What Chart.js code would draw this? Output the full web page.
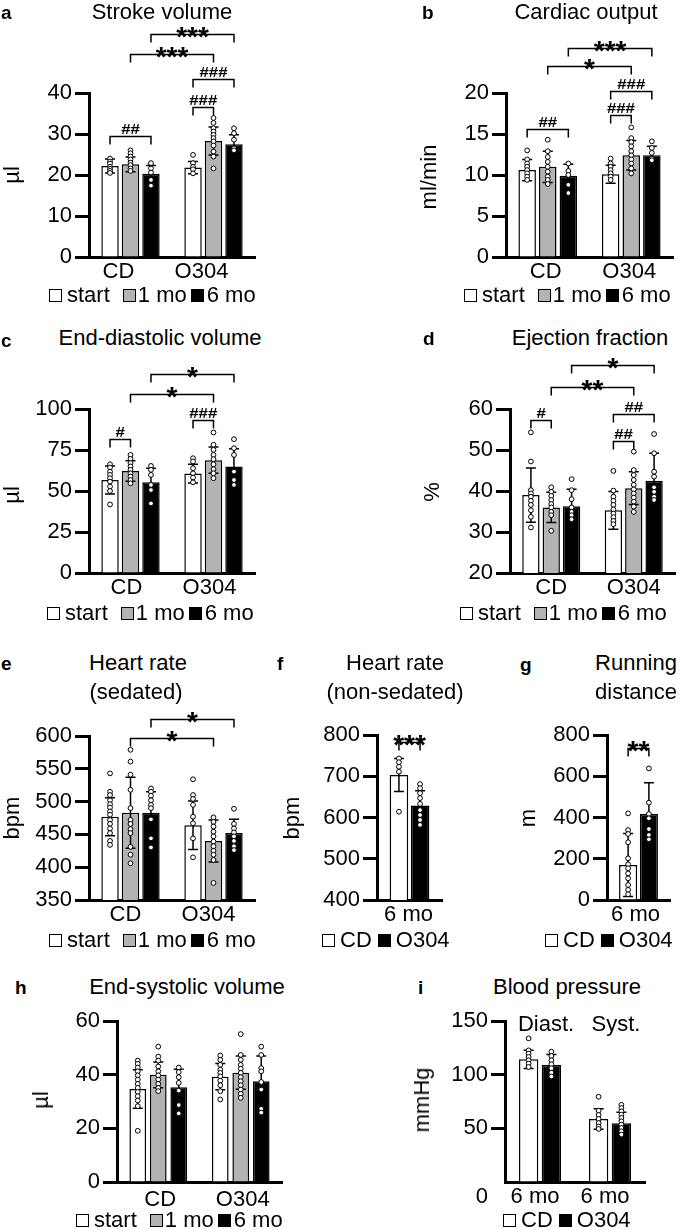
<!DOCTYPE html>
<html><head><meta charset="utf-8">
<script src="https://cdn.jsdelivr.net/npm/chart.js@4.4.1/dist/chart.umd.min.js"></script>
<style>
html,body{margin:0;padding:0;background:#fff;}
body{width:685px;height:1230px;position:relative;overflow:hidden;font-family:"Liberation Sans",Arial,Helvetica,sans-serif;color:#000;}
.tt{position:absolute;white-space:nowrap;font-size:22px;line-height:1;transform:translate(-50%,-50%);}
.lt{position:absolute;white-space:nowrap;font-size:19px;font-weight:bold;line-height:1;transform:translate(0,-50%);}
.yt{position:absolute;white-space:nowrap;font-size:22px;line-height:1;transform:translate(-50%,-50%) rotate(-90deg);}
.lg{position:absolute;display:flex;align-items:center;white-space:nowrap;font-size:22px;line-height:1;transform:translate(0,-50%);}
.bx{display:inline-block;width:11px;height:11px;border:1.5px solid #000;}
canvas{position:absolute;}
</style></head><body>
<script>
// ---------- categories / labels ----------
const groupCats = ['CD', 'O304'];
const timeNames = ['start', '1 mo', '6 mo'];
const dietNames = ['CD', 'O304'];
const sixMo = ['6 mo'];
const bpCats = ['6 mo', '6 mo'];
const bpHeaders = ['Diast.', 'Syst.'];

// ---------- a: Stroke volume (series: start, 1 mo, 6 mo; per category CD, O304) ----------
const svTicks = [0, 10, 20, 30, 40];
const svMean = [[22.2, 21.8], [22.6, 28.3], [20.3, 27.5]];
const svSD = [[1.7, 1.5], [1.8, 3.4], [2.0, 2.3]];
const svPts = [
  [[24, 23.3, 22.8, 22, 21.5, 21, 20.5], [24.9, 22.9, 22, 21.4, 20.4]],
  [[26, 25.3, 24.5, 23.8, 23, 22.4, 21.6, 21], [33.9, 32.7, 31.4, 30.6, 29.8, 29, 28.2, 27.2, 25.7, 24.5, 21.6]],
  [[22.9, 21.6, 20.6, 18.8, 17.4], [31.4, 30.2, 28.6, 26.5, 26]]
];
const svSig = [[0,0,0,2,29.4,'##'], [1,0,1,1,36.7,'###'], [1,0,1,2,43.3,'###'], [0,1,1,1,49.6,'***'], [0,2,1,2,54.4,'***']];

// ---------- b: Cardiac output ----------
const coTicks = [0, 5, 10, 15, 20];
const coMean = [[10.6, 10.1], [11.0, 12.4], [9.9, 12.4]];
const coSD = [[1.3, 1.1], [1.9, 1.8], [1.4, 1.1]];
const coPts = [
  [[13, 11.9, 11.4, 11, 10.6, 10.2, 9.8, 9.4], [12, 11.4, 11, 10.6, 10.2, 9.8, 9.4]],
  [[14.3, 12.9, 12.2, 11.6, 11, 10.4, 9.8, 9.4, 8.9], [15.8, 14.5, 14, 13.5, 12.9, 12.4, 11.9, 11.4, 10.8, 10.2]],
  [[11.4, 10.5, 10, 8.8, 7.8], [14.1, 13.3, 12.7, 12, 11.8]]
];
const coSig = [[0,0,0,2,15.6,'##'], [1,0,1,1,17.3,'###'], [1,0,1,2,20.3,'###'], [0,1,1,1,23.3,'*'], [0,2,1,2,25.5,'***']];

// ---------- c: End-diastolic volume ----------
const edvTicks = [0, 25, 50, 75, 100];
const edvMean = [[56.7, 60.6], [62.2, 68.8], [55.3, 64.9]];
const edvSD = [[8.6, 5.7], [6.2, 8.0], [8.6, 10.8]];
const edvPts = [
  [[66.3, 64.3, 61.8, 59.8, 57.8, 55.7, 52.7, 50, 41.8], [70, 68, 63.9, 60.8, 58.2, 55.3]],
  [[72, 69.6, 67, 65, 62.9, 60.8, 58.8, 56.7, 54.7], [85.7, 78.2, 75.1, 72, 69.4, 66.3, 63.3, 60.8, 57.8]],
  [[65.3, 62.9, 59.8, 53.7, 50.6, 42.4], [81.6, 76.1, 72, 61.8, 56.7, 53.7]]
];
const edvSig = [[0,0,0,1,81.6,'#'], [1,0,1,1,93.5,'###'], [0,1,1,1,109.2,'*'], [0,2,1,2,121.6,'*']];

// ---------- d: Ejection fraction ----------
const efTicks = [20, 30, 40, 50, 60];
const efMean = [[39.0, 35.3], [36.0, 40.7], [36.3, 42.5]];
const efSD = [[6.6, 4.6], [3.7, 4.0], [4.1, 6.7]];
const efPts = [
  [[54.3, 47.2, 40.2, 39.4, 38.6, 37.6, 36.6, 35.3, 33.7, 31.1], [44.9, 40.1, 38.6, 37.6, 36.6, 35.5, 34.5, 33.6, 32.7, 31.9]],
  [[40.9, 39.8, 38.8, 37.8, 36.8, 36, 34.9, 34.1, 30.3], [49.6, 45.1, 43.9, 42.7, 41.5, 40.4, 39.4, 38.4, 37.4, 36.2, 34.9]],
  [[42.9, 40.2, 38, 36, 34.9, 34.1, 33.1], [53.9, 49.2, 44.7, 43.5, 40.9, 39.8, 38.6, 37.8]]
];
const efSig = [[0,0,0,1,57.4,'#'], [1,0,1,1,52.3,'##'], [1,0,1,2,58.9,'##'], [0,1,1,1,65.3,'**'], [0,2,1,2,70.7,'*']];

// ---------- e: Heart rate (sedated) ----------
const hrsTicks = [350, 400, 450, 500, 550, 600];
const hrsMean = [[477, 464], [483, 440], [483, 452]];
const hrsSD = [[29, 37], [54, 32], [32, 21]];
const hrsPts = [
  [[543, 515, 510, 502, 496, 491, 485, 480, 472, 466, 459, 452, 440, 434], [534, 510, 504, 495, 477, 467, 444, 415]],
  [[579, 561, 541, 518, 490, 472, 466, 458, 452, 431, 419, 406], [476, 469, 462, 454, 447, 439, 432, 425, 419, 411, 376]],
  [[520, 515, 509, 502, 495, 490, 473, 444, 430], [489, 466, 459, 453, 447, 440, 432, 426]]
];
const hrsSig = [[0,1,1,1,596.5,'*'], [0,2,1,2,626,'*']];

// ---------- f: Heart rate (non-sedated) (series: CD, O304) ----------
const hrnTicks = [400, 500, 600, 700, 800];
const hrnMean = [[703], [629]];
const hrnSD = [[40], [36]];
const hrnPts = [[[743, 734, 723, 711, 614]], [[681, 671, 659, 647, 633, 618, 606, 594, 582]]];
const hrnSig = [[0,0,0,1,784,'***']];

// ---------- g: Running distance ----------
const runTicks = [0, 200, 400, 600, 800];
const runMean = [[170], [417]];
const runSD = [[153], [152]];
const runPts = [[[420, 339, 320, 280, 202, 173, 154, 129, 105, 73, 49, 28]], [[638, 472, 417, 396, 344, 315, 294]]];
const runSig = [[0,0,0,1,735,'**']];

// ---------- h: End-systolic volume ----------
const esvTicks = [0, 10, 20, 30, 40, 50, 60];
const esvMean = [[34.7, 39.3], [40.0, 40.8], [35.4, 37.6]];
const esvSD = [[7.2, 4.9], [4.8, 6.2], [6.7, 9.4]];
const esvPts = [
  [[45.3, 44.1, 42.7, 41.3, 39.8, 38.2, 36.6, 35.1, 33.6, 32, 30.4, 28.3, 19.1], [47.2, 45.6, 43.7, 41.9, 40.7, 39.4, 37.8, 36.1, 33.9, 30.8]],
  [[50.5, 46.8, 45.3, 43.1, 41.3, 39.8, 38.2, 36.6, 35.1, 33.9], [55.2, 47.4, 45.6, 43.7, 42.3, 40.7, 39.1, 37.6, 36.1, 34.5, 32.9, 31.4]],
  [[42.7, 41, 39.1, 37, 34.1, 28.7, 25.6], [50.5, 47.4, 42.5, 41.3, 37.3, 34.5, 27.3, 25.9]]
];
const esvSig = [];

// ---------- i: Blood pressure (series: CD, O304; categories: diastolic, systolic) ----------
const bpTicks = [0, 50, 100, 150];
const bpMean = [[114.4, 58.8], [109.2, 54.7]];
const bpSD = [[8.5, 9.5], [9.8, 10.3]];
const bpPts = [
  [[134, 122.8, 119.7, 116.6, 113.5, 110.4, 107.3], [79.5, 66.5, 62.5, 58.8, 55, 51.7, 49.5]],
  [[121.6, 117.5, 113.5, 109.8, 106.1, 102, 98.4], [72, 69, 65.9, 62.8, 59.7, 56.6, 53.5, 50.4, 47.3, 44.2]]
];
const bpSig = [];

// ---------- rendering ----------
Chart.defaults.font.family = '"Liberation Sans", Arial, Helvetica, sans-serif';
Chart.defaults.font.size = 22;
Chart.defaults.color = '#000';
const FILL3 = ['#ffffff', '#b3b3b3', '#000000'];
const FILL2 = ['#ffffff', '#000000'];

const decor = {
  id: 'decor',
  // SD error bars, drawn right after each bar series
  afterDatasetDraw(chart, args) {
    const ds = chart.data.datasets[args.index];
    const ctx = chart.ctx, ys = chart.scales.y;
    ctx.save();
    ctx.strokeStyle = '#000'; ctx.lineWidth = 1.5;
    args.meta.data.forEach((el, k) => {
      const m = ds.data[k], s = ds.sd[k];
      const yt = ys.getPixelForValue(m + s), yb = ys.getPixelForValue(m - s);
      ctx.beginPath();
      ctx.moveTo(el.x, yt); ctx.lineTo(el.x, yb);
      ctx.moveTo(el.x - 5, yt); ctx.lineTo(el.x + 5, yt);
      ctx.moveTo(el.x - 5, yb); ctx.lineTo(el.x + 5, yb);
      ctx.stroke();
    });
    ctx.restore();
  },
  // individual animals, drawn on top of all bars at each bar's x position
  afterDatasetsDraw(chart) {
    const ctx = chart.ctx, ys = chart.scales.y;
    ctx.save();
    ctx.strokeStyle = '#000'; ctx.fillStyle = '#fff'; ctx.lineWidth = 1;
    chart.data.datasets.forEach((ds, j) => {
      chart.getDatasetMeta(j).data.forEach((el, k) => {
        (ds.pts[k] || []).forEach(v => {
          ctx.beginPath();
          ctx.arc(el.x, ys.getPixelForValue(v), 2.4, 0, Math.PI * 2);
          ctx.fill(); ctx.stroke();
        });
      });
    });
    ctx.restore();
  },
  afterDraw(chart) {
    const o = chart.options.plugins.decor;
    const ctx = chart.ctx, ys = chart.scales.y;
    ctx.save();
    ctx.strokeStyle = '#000'; ctx.fillStyle = '#000'; ctx.lineWidth = 1.5;
    (o.sig || []).forEach(b => {
      const xa = chart.getDatasetMeta(b[1]).data[b[0]].x;
      const xb = chart.getDatasetMeta(b[3]).data[b[2]].x;
      const y = Math.round(ys.getPixelForValue(b[4])) + 0.5;
      ctx.beginPath();
      ctx.moveTo(xa, y + 8); ctx.lineTo(xa, y); ctx.lineTo(xb, y); ctx.lineTo(xb, y + 8);
      ctx.stroke();
      const cx = (xa + xb) / 2;
      ctx.textAlign = 'center'; ctx.textBaseline = 'alphabetic';
      if (b[5][0] === '*') {
        ctx.font = 'bold 28px "Liberation Sans", Arial, sans-serif';
        ctx.fillText(b[5], cx, y + 11);
      } else {
        ctx.save();
        ctx.translate(cx, y - 2.5);
        ctx.scale(1.2, 1);
        ctx.font = 'bold 14px "Liberation Sans", Arial, sans-serif';
        ctx.fillText(b[5], 0, 0);
        ctx.restore();
      }
    });
    if (o.headers) {
      ctx.font = '22px "Liberation Sans", Arial, sans-serif';
      ctx.textAlign = 'center'; ctx.textBaseline = 'middle';
      o.headers.forEach((h, i) => ctx.fillText(h, chart.scales.x.getPixelForValue(i) + 6, chart.chartArea.top + 4));
    }
    if (o.zeroBelow) {
      ctx.font = '22px "Liberation Sans", Arial, sans-serif';
      ctx.textAlign = 'right'; ctx.textBaseline = 'middle';
      ctx.fillText('0', chart.chartArea.left - 17, chart.chartArea.bottom + 15);
    }
    ctx.restore();
  }
};

function makePanel(o) {
  const cv = document.createElement('canvas');
  cv.width = o.box[2]; cv.height = o.box[3];
  Object.assign(cv.style, {left: o.box[0] + 'px', top: o.box[1] + 'px', width: o.box[2] + 'px', height: o.box[3] + 'px'});
  document.body.appendChild(cv);
  const YW = 70, XH = 30;
  const [x0, x1, yT, yB] = o.area;
  const pad = {left: x0 - o.box[0] - YW, right: o.box[0] + o.box[2] - x1, top: yT - o.box[1], bottom: o.box[1] + o.box[3] - yB - XH};
  const datasets = o.mean.map((m, j) => ({
    label: o.names[j], data: m, sd: o.sd[j], pts: o.pts[j],
    backgroundColor: o.fills[j], borderColor: '#000', borderWidth: 1.5,
    categoryPercentage: o.cp, barPercentage: o.bp
  }));
  const ticks = o.ticks;
  new Chart(cv, {
    type: 'bar',
    data: {labels: o.cats, datasets},
    options: {
      responsive: false, animation: false, events: [],
      layout: {padding: pad},
      plugins: {legend: {display: false}, tooltip: {enabled: false}, decor: {sig: o.sig, headers: o.headers, zeroBelow: o.zeroBelow}},
      scales: {
        x: {type: 'category', offset: true,
          grid: {display: false, drawTicks: false, tickLength: 0},
          border: {display: true, width: 3, color: '#000'},
          ticks: {padding: o.xpad || 2, labelOffset: o.lo || 0, maxRotation: 0, autoSkip: false, color: '#000'},
          afterFit: s => { s.height = XH; }},
        y: {type: 'linear', min: ticks[0], max: ticks[ticks.length - 1],
          afterBuildTicks: s => { s.ticks = ticks.map(v => ({value: v})); },
          ticks: {padding: 3, color: '#000', callback: v => (o.zeroBelow && v === 0) ? '' : v},
          grid: {drawOnChartArea: false, drawTicks: true, tickLength: 14, tickWidth: 3,
            tickColor: c => (o.zeroBelow && c.tick && c.tick.value === 0) ? 'rgba(0,0,0,0)' : '#000'},
          border: {display: true, width: 3, color: '#000'},
          afterFit: s => { s.width = YW; }}
      }
    },
    plugins: [decor]
  });
}

function addText(cls, txt, x, y) {
  const d = document.createElement('div');
  d.className = cls; d.textContent = txt;
  d.style.left = x + 'px'; d.style.top = y + 'px';
  document.body.appendChild(d);
}
function addLegend(x, y, names, fills, gaps) {
  const d = document.createElement('div');
  d.className = 'lg'; d.style.left = x + 'px'; d.style.top = y + 'px';
  names.forEach((nm, j) => {
    const b = document.createElement('span'); b.className = 'bx';
    b.style.background = fills[j]; b.style.marginRight = gaps[j][0] + 'px';
    const t = document.createElement('span'); t.textContent = nm; t.style.marginRight = gaps[j][1] + 'px';
    d.appendChild(b); d.appendChild(t);
  });
  document.body.appendChild(d);
}

// panels
makePanel({box: [0, 18, 300, 272], area: [89, 255, 93, 257], ticks: svTicks, cats: groupCats, names: timeNames, fills: FILL3,
  mean: svMean, sd: svSD, pts: svPts, sig: svSig, cp: 0.74, bp: 0.85, lo: -12});
makePanel({box: [420, 18, 265, 272], area: [506, 673, 93, 257], ticks: coTicks, cats: groupCats, names: timeNames, fills: FILL3,
  mean: coMean, sd: coSD, pts: coPts, sig: coSig, cp: 0.74, bp: 0.85, lo: -2});
makePanel({box: [0, 350, 300, 262], area: [89, 255, 409, 573], ticks: edvTicks, cats: groupCats, names: timeNames, fills: FILL3,
  mean: edvMean, sd: edvSD, pts: edvPts, sig: edvSig, cp: 0.74, bp: 0.85, lo: -4});
makePanel({box: [420, 350, 265, 262], area: [510, 675, 409, 573], ticks: efTicks, cats: groupCats, names: timeNames, fills: FILL3,
  mean: efMean, sd: efSD, pts: efPts, sig: efSig, cp: 0.74, bp: 0.85, lo: 0});
makePanel({box: [0, 700, 300, 230], area: [89, 255, 736, 900], ticks: hrsTicks, cats: groupCats, names: timeNames, fills: FILL3,
  mean: hrsMean, sd: hrsSD, pts: hrsPts, sig: hrsSig, cp: 0.74, bp: 0.85, lo: -5});
makePanel({box: [290, 700, 160, 230], area: [377, 442, 735, 900], ticks: hrnTicks, cats: sixMo, names: dietNames, fills: FILL2,
  mean: hrnMean, sd: hrnSD, pts: hrnPts, sig: hrnSig, cp: 0.65, bp: 0.88, lo: -1});
makePanel({box: [515, 700, 170, 230], area: [607, 670, 735, 900], ticks: runTicks, cats: sixMo, names: dietNames, fills: FILL2,
  mean: runMean, sd: runSD, pts: runPts, sig: runSig, cp: 0.66, bp: 0.87, lo: -3});
makePanel({box: [20, 1005, 280, 210], area: [117, 282, 1019, 1182], ticks: esvTicks, cats: groupCats, names: timeNames, fills: FILL3,
  mean: esvMean, sd: esvSD, pts: esvPts, sig: esvSig, cp: 0.745, bp: 0.815, lo: 2, xpad: 5});
makePanel({box: [420, 1005, 265, 210], area: [505, 645, 1020, 1182], ticks: bpTicks, cats: bpCats, names: dietNames, fills: FILL2,
  mean: bpMean, sd: bpSD, pts: bpPts, sig: bpSig, cp: 0.65, bp: 0.85, lo: -5, headers: bpHeaders, zeroBelow: true});

// titles
[['Stroke volume',162,12],['Cardiac output',586,12],['End-diastolic volume',160,338],['Ejection fraction',590,338],
 ['Heart rate',138,663],['(sedated)',136,692],['Heart rate',395,663],['(non-sedated)',395,692],
 ['Running',636,663],['distance',636,692],['End-systolic volume',187,987],['Blood pressure',567,987]]
 .forEach(t => addText('tt', t[0], t[1], t[2]));
// panel letters
[['a',1,12],['b',422,12],['c',1,340],['d',423,338],['e',1,663],['f',277,663],['g',520,664],['h',15,987],['i',418,987]]
 .forEach(t => addText('lt', t[0], t[1], t[2]));
// y-axis titles
[['µl',12,175],['ml/min',429,177],['µl',12,495],['%',432,492],['bpm',12,818],['bpm',292,818],['m',528,818],['µl',41,1100],['mmHg',422,1100]]
 .forEach(t => addText('yt', t[0], t[1], t[2]));
// legends
const g3 = [[5,13],[2,4],[3,0]], g2 = [[5,6],[5,0]];
[[49,295],[464,295],[47,613],[460,613],[49,940],[76,1220]].forEach(p => addLegend(p[0], p[1], timeNames, FILL3, g3));
[[322,940],[545,940],[503,1220]].forEach(p => addLegend(p[0], p[1], dietNames, FILL2, g2));
</script>
</body></html>
